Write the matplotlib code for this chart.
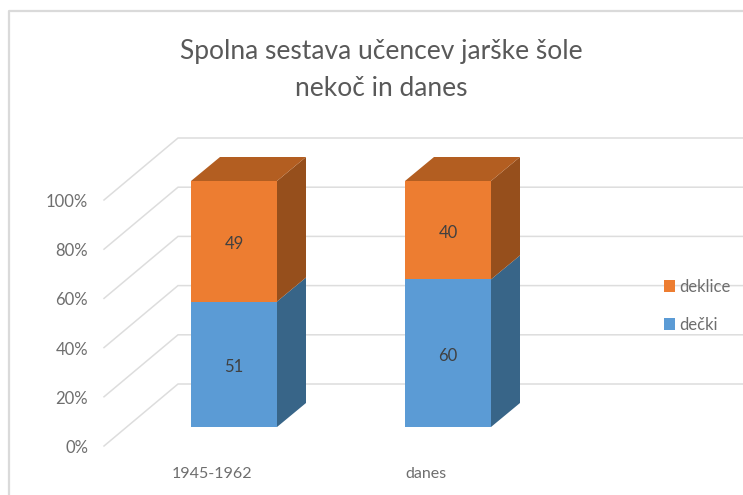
#!/usr/bin/env python3
import matplotlib
matplotlib.use('Agg')
import matplotlib.pyplot as plt

TITLE = 'Spolna sestava učencev jarške šole\nnekoč in danes'
CATEGORIES = ['1945-1962', 'danes']
DECKI = [51, 60]
DEKLICE = [49, 40]
Y_TICKS = [0, 20, 40, 60, 80, 100]

COLORS = {
    'decki': ('#5B9BD5', '#386588'),
    'deklice': ('#ED7D31', '#964F1C', '#B35E21'),
}
GRID = '#DDDDDD'
TEXT = '#6E6E6E'

# pixel scale of the category and percent axes
PX_X = 214.0
PX_Y = 2.46
X0_PX, Y0_PX = 234.0, 427.0
W, H = 743, 495

BAR_W = 86 / PX_X
BAR_DX, BAR_DY = 29 / PX_X, 24 / PX_Y
FLOOR_LEFT = -130 / PX_X
FLOOR_FRONT = -19 / PX_Y
BACK_X, BACK_Y = -56 / PX_X, 43 / PX_Y
GRID_RIGHT = 373 / PX_X
LABEL_NUDGE = -2 / PX_Y

plt.rcParams['font.family'] = ['Lato', 'DejaVu Sans']

fig = plt.figure(figsize=(W / 100, H / 100), dpi=100)
ax = fig.add_axes([0, 0, 1, 1])
ax.set_xlim(-X0_PX / PX_X, (W - X0_PX) / PX_X)
ax.set_ylim((Y0_PX - H) / PX_Y, Y0_PX / PX_Y)
ax.axis('off')

# chart frame, open to the right and the bottom
fig.add_artist(plt.Line2D([8.5 / W, 8.5 / W, 1], [0, 1 - 11 / H, 1 - 11 / H],
                          color='#DADADA', lw=1.6))

for t in Y_TICKS:
    ax.plot([FLOOR_LEFT, BACK_X, GRID_RIGHT + 1],
            [t + FLOOR_FRONT, t + BACK_Y, t + BACK_Y],
            color=GRID, lw=1.1, zorder=1, solid_joinstyle='miter')
    ax.text(FLOOR_LEFT - 16 / PX_X, t + FLOOR_FRONT + LABEL_NUDGE, f'{t}%', ha='right', va='center',
            fontsize=12, color=TEXT)


def draw_segment(i, low, high, front, side, top=None):
    l, r = i - BAR_W / 2, i + BAR_W / 2
    ax.fill([l, r, r, l], [low, low, high, high], color=front, lw=0, zorder=3)
    ax.fill([r, r + BAR_DX, r + BAR_DX, r],
            [low, low + BAR_DY, high + BAR_DY, high], color=side, lw=0, zorder=3)
    if top:
        ax.fill([l, r, r + BAR_DX, l + BAR_DX],
                [high, high, high + BAR_DY, high + BAR_DY], color=top, lw=0, zorder=3)
    ax.text(i, (low + high) / 2 + 1.5 * LABEL_NUDGE, str(round(high - low)), ha='center', va='center',
            fontsize=12, color='#404040', zorder=4)


for i, cat in enumerate(CATEGORIES):
    draw_segment(i, 0, DECKI[i], *COLORS['decki'])
    draw_segment(i, DECKI[i], DECKI[i] + DEKLICE[i], *COLORS['deklice'])
    ax.text(i - 22 / PX_X, -47 / PX_Y, cat, ha='center', va='center', fontsize=11.5, color=TEXT)

fig.text(381 / W, 1 - 70 / H, TITLE, ha='center', va='center', fontsize=19,
         color='#595959', linespacing=1.6)

# legend
for name, col, py in [('deklice', COLORS['deklice'][0], 286), ('dečki', COLORS['decki'][0], 324)]:
    fig.patches.append(plt.Rectangle((664 / W, 1 - (py + 6) / H), 11 / W, 12 / H,
                                     transform=fig.transFigure, color=col, lw=0))
    fig.text(679 / W, 1 - (py + 1.5) / H, name, ha='left', va='center', fontsize=12, color=TEXT)

fig.savefig('out.png', dpi=100)
